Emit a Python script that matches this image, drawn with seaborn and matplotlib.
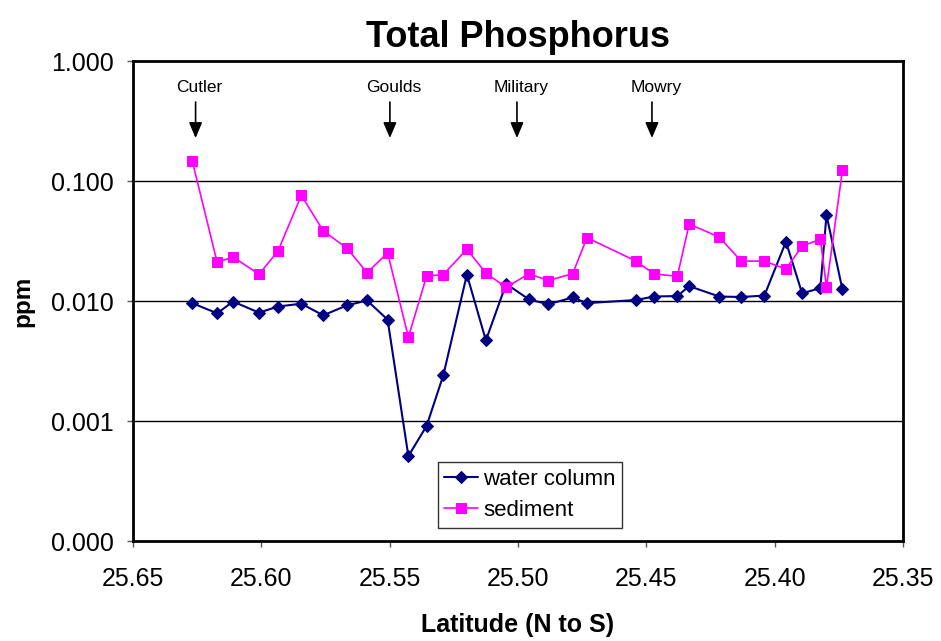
import matplotlib
matplotlib.use("Agg")
import matplotlib.pyplot as plt
import seaborn as sns
import pandas as pd
from matplotlib.ticker import FixedLocator, FuncFormatter, NullLocator

latitude = [25.6269, 25.6172, 25.6110, 25.6009, 25.5935, 25.5844, 25.5759, 25.5666,
            25.5588, 25.5508, 25.5427, 25.5356, 25.5291, 25.5199, 25.5125, 25.5046,
            25.4957, 25.4882, 25.4787, 25.4731, 25.4540, 25.4470, 25.4379, 25.4333,
            25.4216, 25.4130, 25.4040, 25.3956, 25.3893, 25.3822, 25.3798, 25.3736]
water_column = [0.0096, 0.0079, 0.0099, 0.0080, 0.0090, 0.0095, 0.0076, 0.0092,
                0.0101, 0.0070, 0.00051, 0.00091, 0.0024, 0.0166, 0.0047, 0.0139,
                0.0103, 0.0094, 0.0107, 0.0096, 0.0102, 0.0109, 0.0110, 0.0133,
                0.0109, 0.0108, 0.0111, 0.0312, 0.0116, 0.0128, 0.0521, 0.0125]
sediment = [0.147, 0.0210, 0.0233, 0.0167, 0.0261, 0.0760, 0.0385, 0.0275,
            0.0172, 0.0252, 0.0050, 0.0161, 0.0166, 0.0270, 0.0171, 0.0130,
            0.0169, 0.0148, 0.0169, 0.0337, 0.0215, 0.0168, 0.0161, 0.0438,
            0.0341, 0.0215, 0.0215, 0.0185, 0.0287, 0.0327, 0.0131, 0.1228]

landmarks = ["Cutler", "Goulds", "Military", "Mowry"]
landmark_lat = [25.6256, 25.5499, 25.5004, 25.4478]

y_ticks = [0.0001, 0.001, 0.01, 0.1, 1.0]
x_ticks = [25.65, 25.60, 25.55, 25.50, 25.45, 25.40, 25.35]

sns.set_theme(style="white")
plt.rcParams["font.family"] = ["Liberation Sans", "DejaVu Sans"]
for k in ["text.color", "axes.labelcolor", "xtick.color", "ytick.color"]:
    plt.rcParams[k] = "black"

df = pd.DataFrame({"lat": latitude, "water": water_column, "sed": sediment})

fig = plt.figure(figsize=(9.41, 6.41), dpi=100)
ax = fig.add_axes([0.1413, 0.156, 0.8183, 0.7488])

sns.lineplot(data=df, x="lat", y="water", ax=ax, sort=False, color="#000080",
             marker="D", markersize=6, markeredgecolor="#000080", linewidth=1.5,
             label="water column")
sns.lineplot(data=df, x="lat", y="sed", ax=ax, sort=False, color="#FF00FF",
             marker="s", markersize=6.5, markeredgecolor="#FF00FF", linewidth=1.2,
             label="sediment")

ax.set_yscale("log")
ax.set_ylim(0.0001, 1.0)
ax.set_xlim(25.65, 25.35)
ax.yaxis.set_major_locator(FixedLocator(y_ticks))
ax.yaxis.set_minor_locator(NullLocator())
ax.yaxis.set_major_formatter(FuncFormatter(lambda v, p: f"{v:.3f}"))
ax.xaxis.set_major_locator(FixedLocator(x_ticks))
ax.xaxis.set_major_formatter(FuncFormatter(lambda v, p: f"{v:.2f}"))

for yv in y_ticks[1:-1]:
    ax.axhline(yv, color="black", linewidth=1.0, zorder=0)

for s in ax.spines.values():
    s.set_visible(True)
    s.set_color("black")
    s.set_linewidth(2.0)

ax.tick_params(axis="both", which="major", direction="out", length=4.5, width=1.0,
               color="#555555", labelsize=18, left=True, bottom=True)
ax.tick_params(axis="y", pad=9)
ax.tick_params(axis="x", pad=14)

ax.set_xlabel("Latitude (N to S)", fontsize=18, fontweight="bold", labelpad=16)
ax.set_ylabel("ppm", fontsize=17.5, fontweight="bold", labelpad=12)
ax.set_title("Total Phosphorus", fontsize=26, fontweight="bold", pad=10)

for name, lat in zip(landmarks, landmark_lat):
    ax.annotate("", xy=(lat, 0.228), xytext=(lat, 0.455),
                arrowprops=dict(arrowstyle="-|>,head_length=0.47,head_width=0.2",
                                color="black", lw=1.2, mutation_scale=20,
                                shrinkA=0, shrinkB=0))
    ax.text(lat - 0.0015, 0.60, name, ha="center", va="center", fontsize=12.5)

leg = ax.legend(loc="lower left", bbox_to_anchor=(0.3957, 0.0277), borderaxespad=0,
                fontsize=16, frameon=True, fancybox=False, edgecolor="black",
                handlelength=1.5, borderpad=0.3, labelspacing=0.45, handletextpad=0.25)
leg.get_frame().set_linewidth(1.0)

fig.savefig("out.png", dpi=100)
